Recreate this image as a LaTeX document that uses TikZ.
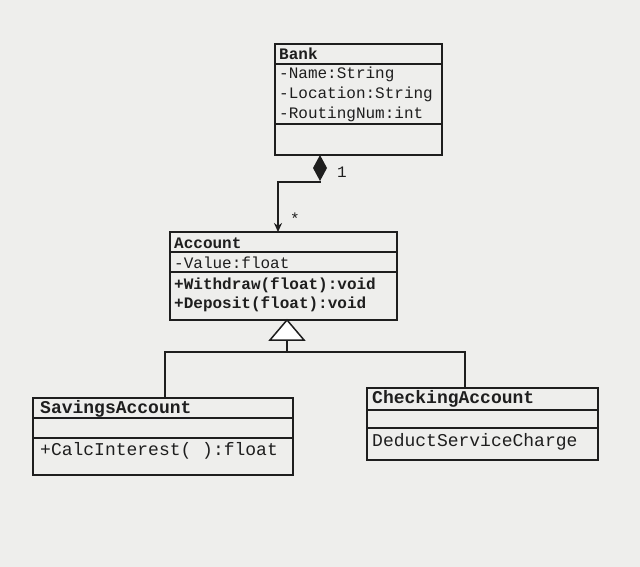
\documentclass[tikz,border=0pt]{standalone}
\usepackage{fontspec}
\setmonofont{Liberation Mono}
\usetikzlibrary{arrows.meta}
\definecolor{paper}{RGB}{238,238,236}
\definecolor{ink}{RGB}{30,30,30}
\begin{document}
\begin{tikzpicture}[x=1pt,y=-1pt,
  box/.style={draw=ink,line width=1.5pt},
  txt/.style={anchor=west,font=\ttfamily\fontsize{16}{18}\selectfont,text=ink,inner sep=0pt},
  big/.style={txt,font=\ttfamily\fontsize{18}{20}\selectfont},
  ttl/.style={txt,font=\ttfamily\bfseries\fontsize{16}{18}\selectfont},
  bttl/.style={txt,font=\ttfamily\bfseries\fontsize{18}{20}\selectfont},
  ln/.style={draw=ink,line width=1.5pt}]
\fill[paper] (0,0) rectangle (640,567);
\useasboundingbox (0,0) rectangle (640,567);
% Bank
\draw[box] (275,44) rectangle (442,155);
\draw[ln] (275,64)--(442,64) (275,124)--(442,124);
\node[ttl] (bt) at (279,54) {Bank};
\node[txt] at (279,74) {-Name:String};
\node[txt] at (279,94) {-Location:String};
\node[txt] at (279,114) {-RoutingNum:int};
\coordinate (bank) at (320,155);
% Account
\draw[box] (170,232) rectangle (397,320);
\draw[ln] (170,252)--(397,252) (170,272)--(397,272);
\node[ttl] at (174,243) {Account};
\node[txt] at (174,263) {-Value:float};
\node[ttl] at (174,285) {+Withdraw(float):void};
\node[ttl] at (174,304) {+Deposit(float):void};
\coordinate (acc) at (278,232);
\coordinate (acb) at (287,320);
% Savings
\draw[box] (33,398) rectangle (293,475);
\draw[ln] (33,418)--(293,418) (33,438)--(293,438);
\node[bttl] at (40,409) {SavingsAccount};
\node[big] at (40,451) {+CalcInterest( ):float};
\coordinate (sav) at (165,398);
% Checking
\draw[box] (367,388) rectangle (598,460);
\draw[ln] (367,410)--(598,410) (367,428)--(598,428);
\node[bttl] at (372,399) {CheckingAccount};
\node[big] at (372,442) {DeductServiceCharge};
\coordinate (chk) at (465,388);
% composition
\fill[ink] (320,155)--(327,168)--(320,181)--(313,168)--cycle;
\draw[ln,-{Stealth[length=9pt,width=8pt]}] (320,181)--(320,182)--(278,182)--(acc);
\node[txt] at (337,172) {1};
\node[txt] at (290,219) {*};
% generalization
\draw[ln,fill=white] (acb)--(304,340)--(270,340)--cycle;
\draw[ln] (287,340)--(287,352);
\draw[ln] (sav)--(165,352)--(465,352)--(chk);
\end{tikzpicture}
\end{document}
